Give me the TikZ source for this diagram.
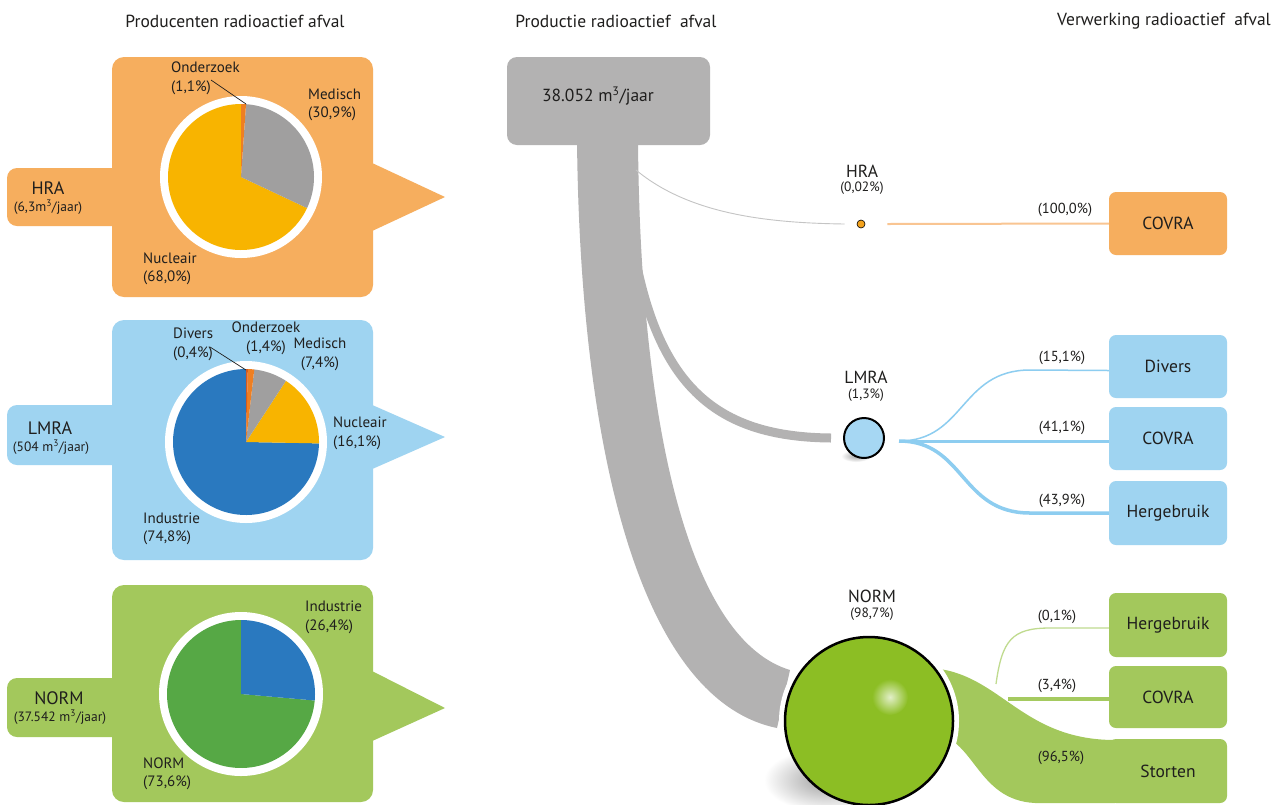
\documentclass[tikz,border=0pt]{standalone}
\usepackage{fontspec}
\setmainfont{PT Sans}
\usetikzlibrary{calc}
\definecolor{txt}{HTML}{1F1E1D}
\definecolor{hrac}{HTML}{F6AE5E}
\definecolor{lmrac}{HTML}{9FD4F1}
\definecolor{normc}{HTML}{A3C85C}
\definecolor{pyel}{HTML}{F8B400}
\definecolor{pgray}{HTML}{A09F9F}
\definecolor{pblue}{HTML}{2A79BF}
\definecolor{pgreen}{HTML}{56A845}
\definecolor{pora}{HTML}{EE7F22}
\definecolor{pdiv}{HTML}{D45A1E}
\definecolor{stemc}{HTML}{B3B2B2}
\definecolor{ballc}{HTML}{8CBE24}
\definecolor{lballc}{HTML}{A6D7F3}
\definecolor{hdot}{HTML}{F3A21D}
\definecolor{oline}{HTML}{F9C592}
\definecolor{bline}{HTML}{8DCDF0}
\definecolor{gline}{HTML}{A5CA60}
\definecolor{gthin}{HTML}{C0DB8F}
\definecolor{hline}{HTML}{C4C4C4}
\newcommand\pieslice[5]{\fill[#1, shift={(#2)}] (0,0) -- plot[domain=#3:#4, samples=80, variable=\t] (\t:#5) -- cycle;}
\begin{document}
\begin{tikzpicture}[x=1pt,y=-1pt,
  ttl/.style={text=txt, inner sep=0pt, font=\fontsize{17.5}{20}\selectfont},
  plbl/.style={text=txt, inner sep=0pt, font=\fontsize{15}{18.5}\selectfont},
  bigname/.style={text=txt, inner sep=0pt, font=\fontsize{18}{21}\selectfont},
  vol/.style={text=txt, inner sep=0pt, font=\fontsize{13.5}{16}\selectfont},
  cname/.style={text=txt, inner sep=0pt, font=\fontsize{17.5}{20}\selectfont},
  cpct/.style={text=txt, inner sep=0pt, font=\fontsize{13.5}{16}\selectfont},
  fpct/.style={text=txt, inner sep=0pt, font=\fontsize{14.5}{17}\selectfont},
  endbox/.style={rounded corners=7, minimum width=118, minimum height=63, inner sep=0pt, text=txt, font=\fontsize{17.5}{20}\selectfont},
  leader/.style={txt, line width=0.7}]
\useasboundingbox (0,0) rectangle (1281,804);
\fill[white] (0,0) rectangle (1281,804);

% titles
\node[ttl] (tA) at (235,21) {Producenten radioactief afval};
\node[ttl] (tB) at (616,21) {Productie radioactief\ \ afval};
\node[ttl] (tC) at (1164,21) {Verwerking radioactief\ \ afval};

% ===== HRA panel =====
\fill[hrac, rounded corners=12] (112,57) rectangle (373,297);
\fill[hrac, rounded corners=10] (7,168) rectangle (130,226);
\fill[hrac] (370,162) -- (445,197) -- (370,232) -- cycle;
\fill[white] (241,177) circle[radius=81];
\pieslice{pyel}{241,177}{25.2}{270}{73}
\pieslice{pgray}{241,177}{-86.04}{25.2}{73}
\pieslice{pora}{241,177}{-90}{-86.04}{73}
\node[plbl, anchor=west, align=left] (hraOnd) at (171,78.5) {Onderzoek\\(1,1\%)};
\node[plbl, anchor=west, align=left] (hraMed) at (308,105) {Medisch\\(30,9\%)};
\node[plbl, anchor=west, align=left] (hraNuc) at (143,269) {Nucleair\\(68,0\%)};
\node[bigname] (hraN) at (48,188) {HRA};
\node[vol] (hraV) at (48,207) {(6,3m\textsuperscript{3}/jaar)};
\coordinate (hraL1) at (211,80);
\coordinate (hraL2) at (246,104);
\draw[leader] (hraL1) -- (hraL2);

% ===== LMRA panel =====
\fill[lmrac, rounded corners=12] (112,320) rectangle (373,560);
\fill[lmrac, rounded corners=10] (7,405) rectangle (130,465);
\fill[lmrac] (370,404) -- (445,437) -- (370,470) -- cycle;
\fill[white] (246,442) circle[radius=81];
\pieslice{pblue}{246,442}{1.08}{270}{73}
\pieslice{pyel}{246,442}{-56.88}{1.08}{73}
\pieslice{pgray}{246,442}{-83.52}{-56.88}{73}
\pieslice{pora}{246,442}{-88.56}{-83.52}{73}
\pieslice{pdiv}{246,442}{-90}{-88.56}{73}
\node[plbl, anchor=west, align=left] (lmDiv) at (173,344.5) {Divers\\(0,4\%)};
\node[plbl, align=center] (lmOnd) at (266,338.5) {Onderzoek\\(1,4\%)};
\node[plbl, align=center] (lmMed) at (320,354.5) {Medisch\\(7,4\%)};
\node[plbl, anchor=west, align=left] (lmNuc) at (333,433.5) {Nucleair\\(16,1\%)};
\node[plbl, anchor=west, align=left] (lmInd) at (143,529) {Industrie\\(74,8\%)};
\node[bigname] (lmN) at (50,428) {LMRA};
\node[vol] (lmV) at (51,447) {(504 m\textsuperscript{3}/jaar)};
\coordinate (lmL1) at (210,347);
\coordinate (lmL2) at (246,370);
\draw[leader] (lmL1) -- (lmL2);

% ===== NORM panel =====
\fill[normc, rounded corners=12] (112,585) rectangle (373,802);
\fill[normc, rounded corners=10] (7,678) rectangle (130,737);
\fill[normc] (370,670) -- (445,708) -- (370,742) -- cycle;
\fill[white] (241,694) circle[radius=82];
\pieslice{pgreen}{241,694}{5.04}{270}{74}
\pieslice{pblue}{241,694}{-90}{5.04}{74}
\node[plbl, anchor=west, align=left] (nInd) at (305,617.5) {Industrie\\(26,4\%)};
\node[plbl, anchor=west, align=left] (nNorm) at (143,774) {NORM\\(73,6\%)};
\node[bigname] (nN) at (59,698) {NORM};
\node[vol] (nV) at (60,717) {(37.542 m\textsuperscript{3}/jaar)};

% ===== middle: production flow =====
\fill[stemc] (577,140) .. controls (580,450) and (640,700) .. (777,728) -- (790,670) .. controls (690,640) and (640,430) .. (638,140) -- cycle;
\node[fill=stemc, rounded corners=10, minimum width=203, minimum height=88, inner sep=0pt] (prod) at (608.5,101) {};
\node[cname] (prodT) at (598,96) {38.052 m\textsuperscript{3}/jaar};

% end boxes
\node[endbox, fill=hrac] (covraH) at (1168,223.5) {COVRA};
\node[endbox, fill=lmrac] (divers) at (1168,366.5) {Divers};
\node[endbox, fill=lmrac] (covraL) at (1168,438.5) {COVRA};
\node[endbox, fill=lmrac, minimum height=64] (hergL) at (1168,513) {Hergebruik};
\node[endbox, fill=normc, minimum height=64] (hergN) at (1168,625) {Hergebruik};
\node[endbox, fill=normc, minimum height=62] (covraN) at (1168,697) {COVRA};
\node[endbox, fill=normc, minimum height=64] (storten) at (1168,771) {Storten};

% HRA node
\node[circle, fill=hdot, draw=black, line width=0.6, minimum size=8, inner sep=0pt] (hra) at (861,224) {};
\node[cname] (hraT) at (862,171) {HRA};
\node[cpct] (hraP) at (862,188) {(0,02\%)};
\draw[hline, line width=0.9] (636,170) .. controls (690,215) and (770,223) .. ($(hra.west)+(-12,0)$);
\draw[oline, line width=2] ($(hra.east)+(22,0)$) -- (covraH.west);
\node[fpct] (pH1) at (1065,210) {(100,0\%)};

% LMRA node
\shade[inner color=gray!70, outer color=white] (856,456) ellipse[x radius=15, y radius=6];
\node[circle, fill=lballc, draw=black, line width=2, minimum size=40, inner sep=0pt] (lmra) at (864,438) {};
\node[cname] (lmraT) at (866,377) {LMRA};
\node[cpct] (lmraP) at (866,395) {(1,3\%)};
\draw[stemc, line width=9] (636,262) .. controls (662,390) and (720,437) .. ($(lmra.west)+(-12,0)$);
\coordinate (ls) at ($(lmra.east)+(14,3)$);
\draw[bline, line width=1.5] (ls) .. controls (965,441) and (960,370) .. (1030,370) -- ($(divers.west)+(0,4)$);
\draw[bline, line width=3] (ls) -- (ls -| covraL.west);
\draw[bline, line width=3.5] (ls) .. controls (965,441) and (960,513) .. (1030,513) -- (hergL.west);
\node[fpct] (pL1) at (1062,358) {(15,1\%)};
\node[fpct] (pL2) at (1062,428) {(41,1\%)};
\node[fpct] (pL3) at (1062,501) {(43,9\%)};

% NORM node
\fill[normc] (930,668) .. controls (1000,672) and (1020,740) .. (1115,740) -- (1115,803) -- (1035,803) .. controls (975,800) and (975,735) .. (930,733) -- cycle;
\draw[gline, line width=4] (1008,699) -- (covraN.west |- 0,699);
\draw[gthin, line width=1.3] (996,684) .. controls (1002,640) and (1012,628) .. (1050,628) -- ($(hergN.west)+(0,3)$);
\fill[white] (869,721) circle[radius=90];
\shade[inner color=gray!75, outer color=white] (826,780) ellipse[x radius=62, y radius=32];
\node[circle, fill=ballc, minimum size=168, inner sep=0pt] (norm) at (869,721) {};
\shade[inner color=ballc!25!white, outer color=ballc] (890,697) circle[radius=18];
\draw[black, line width=2.5] (norm.center) circle[radius=84];
\node[cname] (normT) at (872,596) {NORM};
\node[cpct] (normP) at (872,614) {(98,7\%)};
\node[fpct] (pN1) at (1057,617) {(0,1\%)};
\node[fpct] (pN2) at (1057,686) {(3,4\%)};
\node[fpct] (pN3) at (1061,758) {(96,5\%)};
\end{tikzpicture}
\end{document}
